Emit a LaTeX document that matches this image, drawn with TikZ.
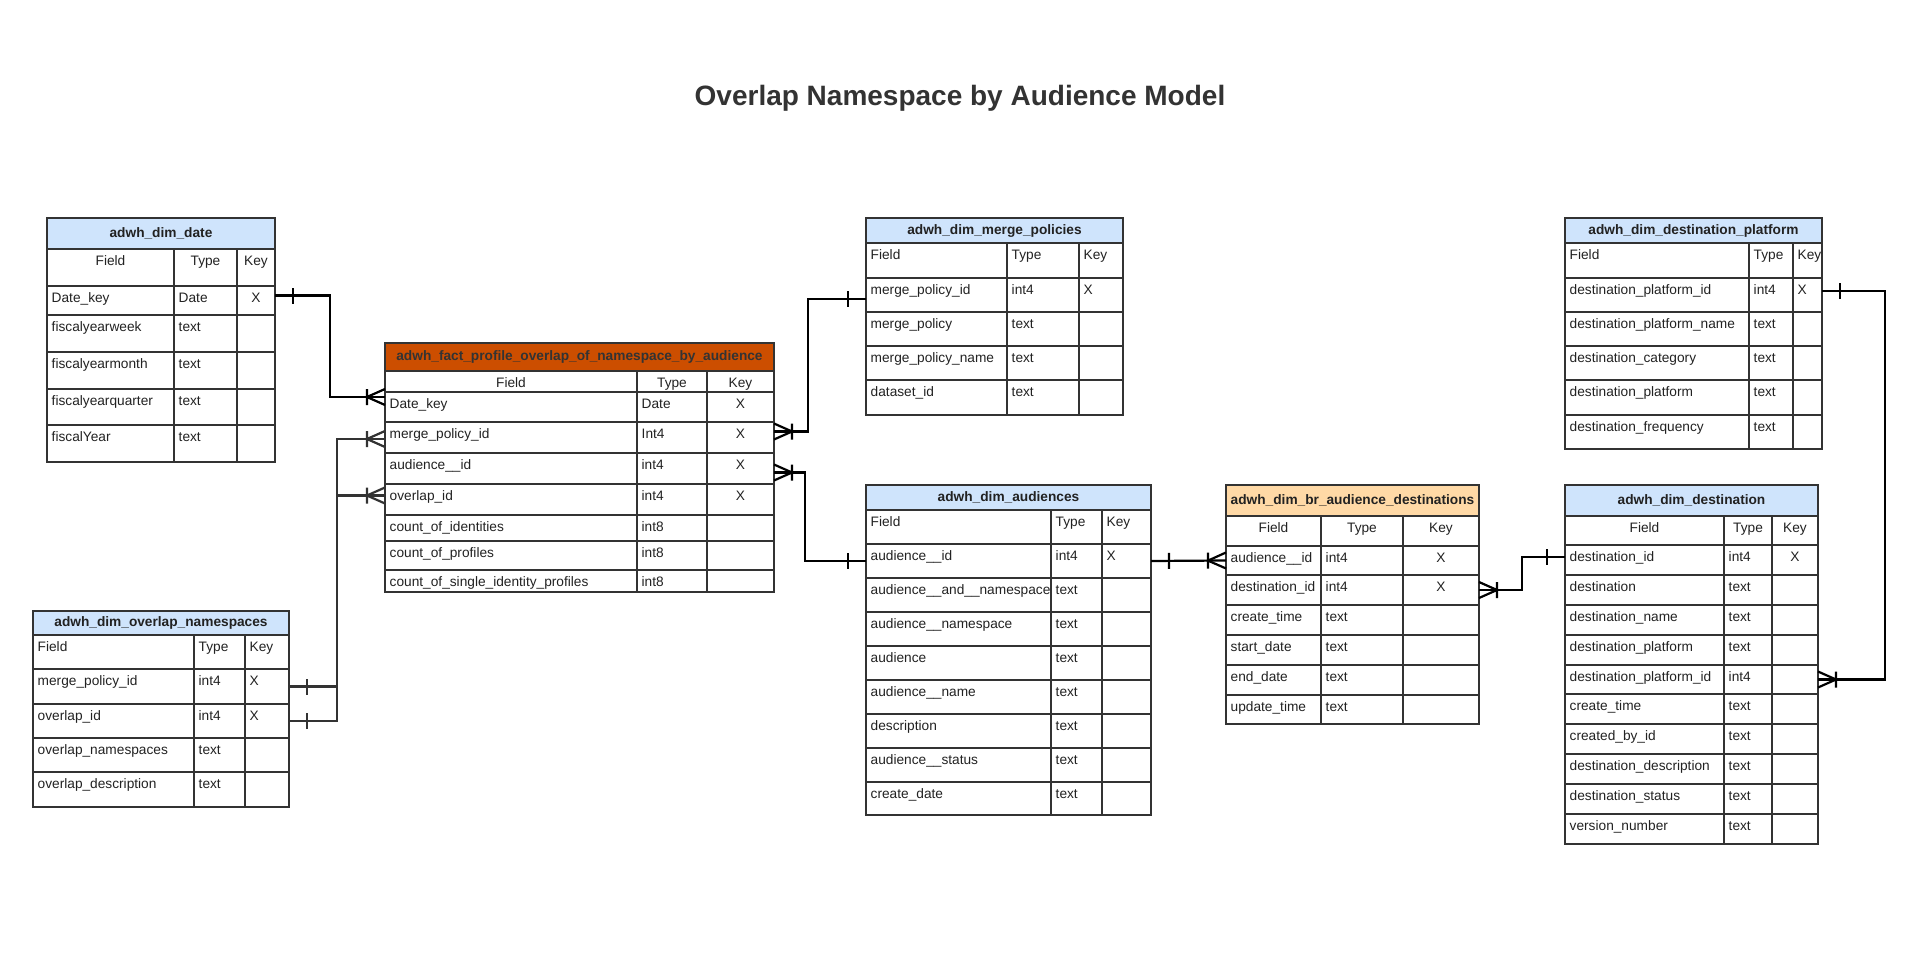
\documentclass[tikz,border=0pt]{standalone}
\usepackage{fontspec}
\setmainfont{Liberation Sans}
\usepackage{xcolor}
\usetikzlibrary{arrows.meta,positioning,calc}

\definecolor{hblue}{HTML}{CFE4FC}
\definecolor{horange}{HTML}{CC4E00}
\definecolor{hpeach}{HTML}{FFD9A6}
\definecolor{ink}{HTML}{222222}
\definecolor{rulecol}{HTML}{333333}
\definecolor{titlegray}{HTML}{333333}

% one / one-or-many ends
\pgfdeclarearrow{
  name = erone,
  setup code = {\pgfarrowssettipend{0pt}\pgfarrowssetlineend{0pt}\pgfarrowssetbackend{-18pt}},
  drawing code = {
    \pgfpathmoveto{\pgfqpoint{-18pt}{8pt}}
    \pgfpathlineto{\pgfqpoint{-18pt}{-8pt}}
    \pgfusepathqstroke}
}
\pgfdeclarearrow{
  name = ermany,
  setup code = {\pgfarrowssettipend{0pt}\pgfarrowssetlineend{0pt}\pgfarrowssetbackend{-18pt}},
  drawing code = {
    \pgfpathmoveto{\pgfqpoint{0pt}{8pt}}
    \pgfpathlineto{\pgfqpoint{-18pt}{0pt}}
    \pgfpathlineto{\pgfqpoint{0pt}{-8pt}}
    \pgfpathmoveto{\pgfqpoint{-18pt}{8pt}}
    \pgfpathlineto{\pgfqpoint{-18pt}{-8pt}}
    \pgfusepathqstroke}
}

\tikzset{
  hdr/.style={draw=rulecol, line width=1.1pt, anchor=north west, inner sep=0pt, outer sep=0pt,
    font=\bfseries\fontsize{13.7}{16}\selectfont, text=ink},
  rowbox/.style={draw=rulecol, line width=1.1pt, anchor=north west, inner sep=0pt, outer sep=0pt},
  txt/.style={inner sep=0pt, font=\fontsize{13.7}{16}\selectfont, text=ink},
  rel/.style={line width=2.2pt},
  heading/.style={font=\bfseries\fontsize{28}{32}\selectfont, text=titlegray, anchor=base}
}

% #1 name, #2 left, #3 col1, #4 col2, #5 right, #6 centred (1/0), #7 rows
\newcommand{\tablebody}[7]{%
  \foreach \ri/\rt/\rb/\rf/\rty/\rk in {#7} {
    \node[rowbox, minimum width={(#5-#2)*1pt}, minimum height={(\rb-\rt)*1pt}] (#1-\ri) at (#2,\rt) {};
    \draw[rulecol, line width=1.1pt] (#3,\rt) -- (#3,\rb) (#4,\rt) -- (#4,\rb);
    \pgfmathsetmacro\bl{\rt+16.5}
    \pgfmathtruncatemacro\hc{#6*(\ri==0)}
    \ifnum\hc=1
      \node[txt, anchor=base] (#1-\ri-f) at ({(#2+#3)/2},\bl) {\rf};
      \node[txt, anchor=base] (#1-\ri-t) at ({(#3+#4)/2},\bl) {\rty};
    \else
      \node[txt, anchor=base west] (#1-\ri-f) at (#2+4.5,\bl) {\rf};
      \node[txt, anchor=base west] (#1-\ri-t) at (#3+4.5,\bl) {\rty};
    \fi
    \ifnum#6=1
      \node[txt, anchor=base] (#1-\ri-k) at ({(#4+#5)/2},\bl) {\rk};
    \else
      \node[txt, anchor=base west] (#1-\ri-k) at (#4+4.5,\bl) {\rk};
    \fi
  }%
}

\begin{document}
\catcode`\_=12
\begin{tikzpicture}[x=1pt,y=-1pt]
\fill[white] (0,0) rectangle (1920,963);
\useasboundingbox (0,0) rectangle (1920,963);

\node[heading] (title) at (960,106) {Overlap Namespace by Audience Model};

% adwh_dim_date
\node[hdr, fill=hblue, minimum width=228pt, minimum height=31pt] (date) at (47,218) {adwh_dim_date};
\tablebody{date}{47}{174}{237}{275}{1}{0/249/286/Field/Type/Key, 1/286/315/Date_key/Date/X,
  2/315/352/fiscalyearweek/text/{}, 3/352/389/fiscalyearmonth/text/{},
  4/389/425/fiscalyearquarter/text/{}, 5/425/462/fiscalYear/text/{}}

% fact table
\node[hdr, fill=horange, text=titlegray, minimum width=389pt, minimum height=28pt] (fact) at (385,343) {adwh_fact_profile_overlap_of_namespace_by_audience};
\tablebody{fact}{385}{637}{707}{774}{1}{0/371/392/Field/Type/Key, 1/392/422/Date_key/Date/X,
  2/422/453/merge_policy_id/Int4/X, 3/453/484/audience__id/int4/X, 4/484/515/overlap_id/int4/X,
  5/515/541/count_of_identities/int8/{}, 6/541/570/count_of_profiles/int8/{},
  7/570/592/count_of_single_identity_profiles/int8/{}}

% adwh_dim_overlap_namespaces
\node[hdr, fill=hblue, minimum width=256pt, minimum height=24pt] (ov) at (33,611) {adwh_dim_overlap_namespaces};
\tablebody{ov}{33}{194}{245}{289}{0}{0/635/669/Field/Type/Key, 1/669/704/merge_policy_id/int4/X,
  2/704/738/overlap_id/int4/X, 3/738/772/overlap_namespaces/text/{}, 4/772/807/overlap_description/text/{}}

% adwh_dim_merge_policies
\node[hdr, fill=hblue, minimum width=257pt, minimum height=25pt] (mp) at (866,218) {adwh_dim_merge_policies};
\tablebody{mp}{866}{1007}{1079}{1123}{0}{0/243/278/Field/Type/Key, 1/278/312/merge_policy_id/int4/X,
  2/312/346/merge_policy/text/{}, 3/346/380/merge_policy_name/text/{}, 4/380/415/dataset_id/text/{}}

% adwh_dim_audiences
\node[hdr, fill=hblue, minimum width=285pt, minimum height=25pt] (aud) at (866,485) {adwh_dim_audiences};
\tablebody{aud}{866}{1051}{1102}{1151}{0}{0/510/544/Field/Type/Key, 1/544/578/audience__id/int4/X,
  2/578/612/audience__and__namespace/text/{}, 3/612/646/audience__namespace/text/{},
  4/646/680/audience/text/{}, 5/680/714/audience__name/text/{}, 6/714/748/description/text/{},
  7/748/782/audience__status/text/{}, 8/782/815/create_date/text/{}}

% adwh_dim_br_audience_destinations
\node[hdr, fill=hpeach, minimum width=253pt, minimum height=31pt] (br) at (1226,485) {adwh_dim_br_audience_destinations};
\tablebody{br}{1226}{1321}{1403}{1479}{1}{0/516/546/Field/Type/Key, 1/546/575/audience__id/int4/X,
  2/575/605/destination_id/int4/X, 3/605/635/create_time/text/{}, 4/635/665/start_date/text/{},
  5/665/695/end_date/text/{}, 6/695/724/update_time/text/{}}

% adwh_dim_destination_platform
\node[hdr, fill=hblue, minimum width=257pt, minimum height=25pt] (dp) at (1565,218) {adwh_dim_destination_platform};
\tablebody{dp}{1565}{1749}{1793}{1822}{0}{0/243/278/Field/Type/Key, 1/278/312/destination_platform_id/int4/X,
  2/312/346/destination_platform_name/text/{}, 3/346/380/destination_category/text/{},
  4/380/415/destination_platform/text/{}, 5/415/449/destination_frequency/text/{}}

% adwh_dim_destination
\node[hdr, fill=hblue, minimum width=253pt, minimum height=31pt] (dest) at (1565,485) {adwh_dim_destination};
\tablebody{dest}{1565}{1724}{1772}{1818}{1}{0/516/545/Field/Type/Key, 1/545/575/destination_id/int4/X,
  2/575/605/destination/text/{}, 3/605/635/destination_name/text/{}, 4/635/665/destination_platform/text/{},
  5/665/694/destination_platform_id/int4/{}, 6/694/724/create_time/text/{}, 7/724/754/created_by_id/text/{},
  8/754/784/destination_description/text/{}, 9/784/814/destination_status/text/{}, 10/814/844/version_number/text/{}}

% relations
\draw[rel, erone-ermany] ([yshift=5pt]date-1.east) -- ++(55,0) |- ([yshift=10pt]fact-1.west);
\draw[rel, rulecol, erone-ermany] (ov-1.east) -- ++(48,0) |- ([yshift=-1.5pt]fact-2.west);
\draw[rel, rulecol, erone-ermany] (ov-2.east) -- ++(48,0) |- ([yshift=4pt]fact-4.west);
\draw[rel, ermany-erone] ([yshift=6pt]fact-2.east) -- ++(34,0) |- ([yshift=-4pt]mp-1.west);
\draw[rel, ermany-erone] ([yshift=-4pt]fact-3.east) -- ++(31,0) |- (aud-1.west);
\draw[rel, erone-ermany] (aud-1.east) -- (br-1.west);
\draw[rel, ermany-erone] (br-2.east) -- ++(43,0) |- ([yshift=3pt]dest-1.west);
\draw[rel, erone-ermany] ([yshift=4pt]dp-1.east) -- ++(63,0) |- (dest-5.east);
\end{tikzpicture}
\end{document}
